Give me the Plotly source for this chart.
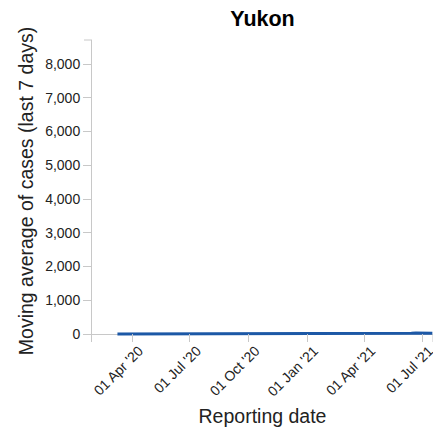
import plotly.graph_objects as go
import pandas as pd

title_text = "Yukon"
x_title = "Reporting date"
y_title = "Moving average of cases (last 7 days)"

# weekly reporting dates (start of each week shown)
week_start = "2020-03-09"
n_weeks = 71
dates = list(pd.date_range(week_start, periods=n_weeks, freq="7D"))
dates.append(pd.Timestamp("2021-07-17"))

# moving average of cases (last 7 days)
cases = [
    0, 0, 1, 1, 1, 0, 0, 0, 0, 0,
    0, 0, 0, 0, 0, 1, 1, 0, 0, 0,
    0, 0, 0, 0, 0, 0, 0, 0, 0, 0,
    0, 0, 0, 0, 0, 1, 2, 3, 2, 1,
    1, 0, 0, 0, 0, 0, 0, 0, 0, 1,
    1, 0, 0, 0, 0, 0, 0, 0, 0, 1,
    2, 1, 0, 0, 3, 10, 20, 28, 32, 30,
    25, 22,
]

y_tickvals = [0, 1000, 2000, 3000, 4000, 5000, 6000, 7000, 8000]
y_ticktext = ["0", "1,000", "2,000", "3,000", "4,000", "5,000", "6,000", "7,000", "8,000"]
x_tickvals = ["2020-04-01", "2020-07-01", "2020-10-01", "2021-01-01", "2021-04-01", "2021-07-01"]
x_ticktext = ["01 Apr '20", "01 Jul '20", "01 Oct '20", "01 Jan '21", "01 Apr '21", "01 Jul '21"]

y_range = [-237, 8711]
x_range = ["2020-01-29", "2021-07-18"]

axis_col = "#c8c8c8"
font_fam = "Liberation Sans, Arial, sans-serif"

# the page body has an 8px margin; the figure is sized to fit inside the window
W, H = 433, 419
L, R, T, B = 84, 8, 32, 85
PW, PH = W - L - R, H - T - B

fig = go.Figure()
fig.add_trace(go.Scatter(
    x=dates, y=cases, mode="lines",
    line=dict(color="#1c58a6", width=3),
    hoverinfo="skip", showlegend=False,
))

fig.update_layout(
    width=W, height=H,
    margin=dict(l=L, r=R, t=T, b=B),
    paper_bgcolor="white", plot_bgcolor="white",
    font=dict(family=font_fam, size=14, color="#222"),
    title=dict(text="<b>" + title_text + "</b>", x=(L + PW / 2) / W, xanchor="center",
               y=1 - 10 / H, yanchor="middle",
               font=dict(size=21.5, color="#000", family=font_fam)),
    showlegend=False,
)

fig.update_xaxes(
    type="date", range=x_range, automargin=False,
    tickvals=x_tickvals, ticktext=x_ticktext, tickangle=-45,
    ticks="inside", ticklen=8, tickcolor=axis_col, tickwidth=1,
    ticklabelshift=7, ticklabelstandoff=-3,
    showgrid=False, showline=False, zeroline=False,
    tickfont=dict(size=14, color="#222"),
    title=dict(text=x_title, font=dict(size=19.5, color="#222"), standoff=14),
)
fig.update_yaxes(
    range=y_range, automargin=False,
    tickvals=y_tickvals, ticktext=y_ticktext,
    ticks="outside", ticklen=8, tickcolor=axis_col, tickwidth=1,
    showgrid=False, showline=True, linecolor=axis_col, linewidth=1,
    zeroline=True, zerolinecolor=axis_col, zerolinewidth=1,
    tickfont=dict(size=14, color="#222"),
    title=dict(text=y_title, font=dict(size=19.5, color="#222"), standoff=6),
)

# end caps of the axis domains
fig.add_shape(type="line", xref="paper", yref="paper",
              x0=-8 / PW, x1=0, y0=1, y1=1,
              line=dict(color=axis_col, width=1))
fig.add_shape(type="line", xref="paper", yref="paper",
              x0=1, x1=1, y0=0, y1=8 / PH,
              line=dict(color=axis_col, width=1))

fig.write_html("out.html")
